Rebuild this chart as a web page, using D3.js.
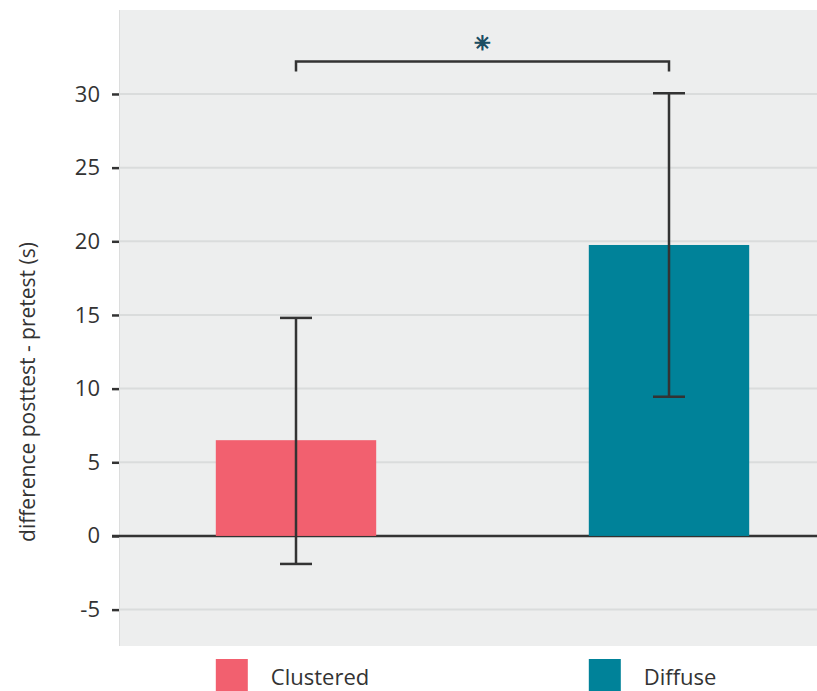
<!DOCTYPE html>
<html>
<head>
<meta charset="utf-8">
<script src="https://cdn.jsdelivr.net/npm/d3@7"></script>
<style>
  body { margin: 0; background: #fff; }
  text { font-family: "Open Sans", sans-serif; fill: #333; }
</style>
</head>
<body>
<script>
// data
var groups = ["Clustered", "Diffuse"];
var means = [6.5, 19.75];
var errLow = [-1.9, 9.45];
var errHigh = [14.8, 30.05];
var colors = ["#f2606f", "#008299"];
var yTicks = [-5, 0, 5, 10, 15, 20, 25, 30];
var sigLevel = 32.2;
var sigLabel = "\u2733";

var w = 817, h = 691;
var pLeft = 119, pRight = 817, pTop = 10, pBottom = 646;

var svg = d3.select("body").append("svg")
    .attr("width", w)
    .attr("height", h);

var x = d3.scaleBand()
    .domain(groups)
    .range([109.5, 855.5])
    .paddingInner(0.57)
    .paddingOuter(0.285);

var y = d3.scaleLinear()
    .domain([-7.47, 35.7])
    .range([pBottom, pTop]);

// panel background
svg.append("rect")
    .attr("x", pLeft).attr("y", pTop)
    .attr("width", pRight - pLeft).attr("height", pBottom - pTop)
    .attr("fill", "#edeeee");
svg.append("line")
    .attr("x1", pLeft + 0.5).attr("x2", pLeft + 0.5)
    .attr("y1", pTop).attr("y2", pBottom)
    .attr("stroke", "#dcdddd");

// grid lines
svg.selectAll(".grid")
    .data(yTicks.filter(function(d) { return d !== 0; }))
    .enter().append("line")
    .attr("x1", pLeft).attr("x2", pRight)
    .attr("y1", function(d) { return y(d); })
    .attr("y2", function(d) { return y(d); })
    .attr("stroke", "#dadcdc")
    .attr("stroke-width", 2);

// y axis
var yAxis = d3.axisLeft(y).tickValues(yTicks).tickSize(7).tickPadding(12)
    .tickFormat(function(d) { return String(d); });
var ya = svg.append("g")
    .attr("transform", "translate(" + pLeft + ",0)")
    .call(yAxis);
ya.select(".domain").remove();
ya.selectAll(".tick line").attr("stroke", "#333").attr("stroke-width", 2.5);
ya.selectAll(".tick text")
    .style("font-family", "'Open Sans', sans-serif")
    .style("font-size", "22px")
    .attr("fill", "#333");

// zero line
svg.append("line")
    .attr("x1", pLeft - 7).attr("x2", pRight)
    .attr("y1", y(0)).attr("y2", y(0))
    .attr("stroke", "#333")
    .attr("stroke-width", 2.5);

// bars
svg.selectAll(".bar")
    .data(groups)
    .enter().append("rect")
    .attr("x", function(d) { return x(d); })
    .attr("width", x.bandwidth())
    .attr("y", function(d, i) { return y(Math.max(0, means[i])); })
    .attr("height", function(d, i) { return Math.abs(y(means[i]) - y(0)); })
    .attr("fill", function(d, i) { return colors[i]; });

// error bars
var cap = 16;
var eb = svg.selectAll(".err")
    .data(groups)
    .enter().append("g")
    .attr("stroke", "#333")
    .attr("stroke-width", 2.5);
eb.append("line")
    .attr("x1", function(d) { return x(d) + x.bandwidth() / 2; })
    .attr("x2", function(d) { return x(d) + x.bandwidth() / 2; })
    .attr("y1", function(d, i) { return y(errLow[i]); })
    .attr("y2", function(d, i) { return y(errHigh[i]); });
eb.append("line")
    .attr("x1", function(d) { return x(d) + x.bandwidth() / 2 - cap; })
    .attr("x2", function(d) { return x(d) + x.bandwidth() / 2 + cap; })
    .attr("y1", function(d, i) { return y(errHigh[i]); })
    .attr("y2", function(d, i) { return y(errHigh[i]); });
eb.append("line")
    .attr("x1", function(d) { return x(d) + x.bandwidth() / 2 - cap; })
    .attr("x2", function(d) { return x(d) + x.bandwidth() / 2 + cap; })
    .attr("y1", function(d, i) { return y(errLow[i]); })
    .attr("y2", function(d, i) { return y(errLow[i]); });

// significance bracket
var c0 = x(groups[0]) + x.bandwidth() / 2;
var c1 = x(groups[1]) + x.bandwidth() / 2;
var by = y(sigLevel);
svg.append("path")
    .attr("d", "M" + c0 + "," + (by + 10) + "V" + by + "H" + c1 + "V" + (by + 10))
    .attr("fill", "none")
    .attr("stroke", "#333")
    .attr("stroke-width", 2.5);
svg.append("text")
    .attr("x", (c0 + c1) / 2)
    .attr("y", by - 12)
    .attr("text-anchor", "middle")
    .style("font-family", "'DejaVu Sans', sans-serif")
    .style("font-size", "20px")
    .style("fill", "#1d4e63")
    .style("stroke", "#1d4e63")
    .style("stroke-width", 1)
    .text(sigLabel);

// y label
svg.append("text")
    .attr("transform", "translate(35," + 392 + ") rotate(-90)")
    .attr("text-anchor", "middle")
    .style("font-size", "21px")
    .text("difference posttest - pretest (s)");

// legend
var lg = svg.selectAll(".legend")
    .data(groups)
    .enter().append("g")
    .attr("transform", function(d) { return "translate(" + x(d) + ",659)"; });
lg.append("rect")
    .attr("width", 32).attr("height", 34)
    .attr("fill", function(d, i) { return colors[i]; });
lg.append("text")
    .attr("x", 55).attr("y", 26)
    .style("font-size", "22px")
    .text(function(d) { return d; });
</script>
</body>
</html>
